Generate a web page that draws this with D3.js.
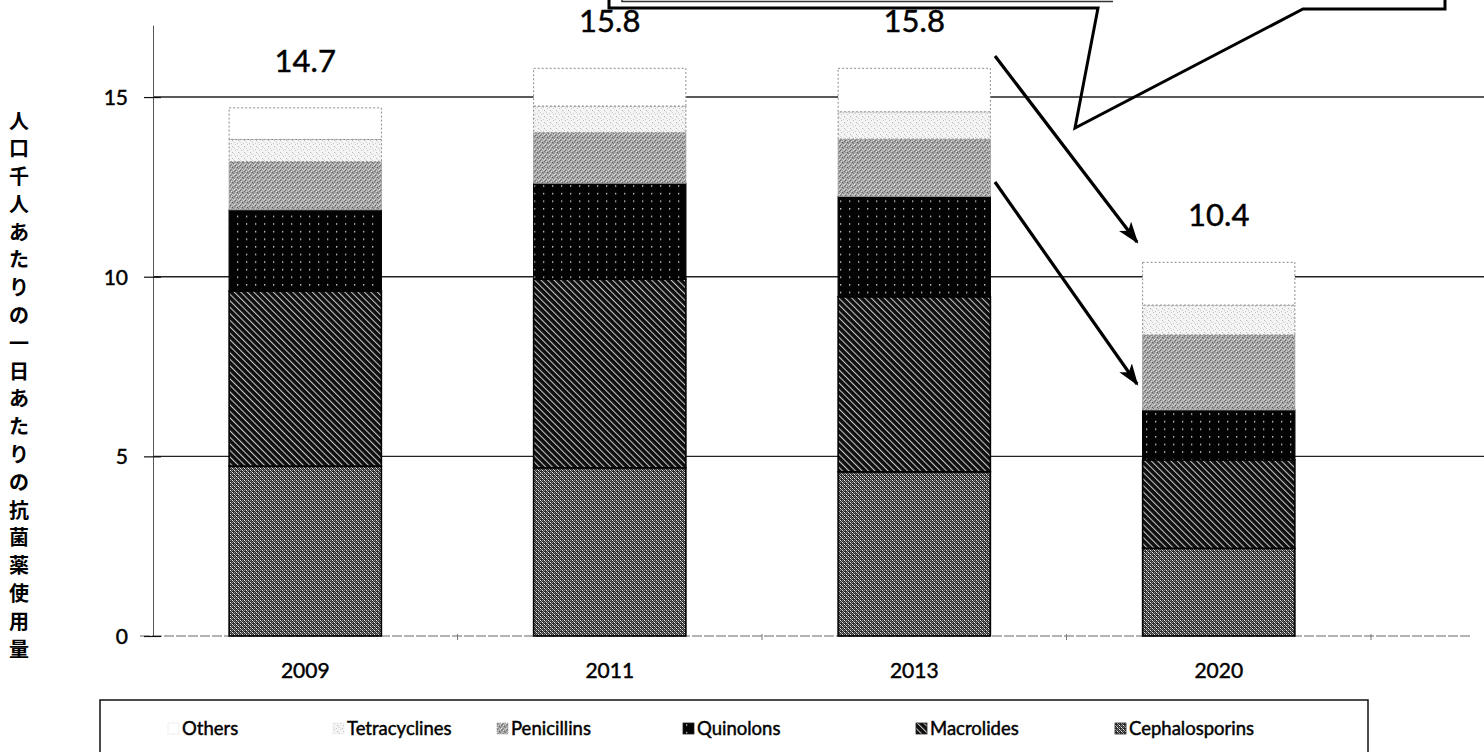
<!DOCTYPE html>
<html lang="ja">
<head>
<meta charset="utf-8">
<title>抗菌薬使用量</title>
<script src="https://cdn.jsdelivr.net/npm/d3@7"></script>
<style>
  html, body { margin: 0; padding: 0; background: #fff; }
  svg { display: block; }
  text { font-family: Lato, "Open Sans", "Noto Sans", sans-serif; fill: #000; }
  .heavy { stroke: #000; stroke-width: 0.45px; paint-order: stroke; }
  .jp { font-family: "Noto Sans CJK JP", "Noto Sans", sans-serif; }
</style>
</head>
<body>
<svg id="chart" width="1484" height="752"></svg>
<script>
// Survey years
const categories = ["2009", "2011", "2013", "2020"];

// Daily antibiotic use per 1,000 inhabitants, by drug class
const cephalosporins = [4.73, 4.68, 4.57, 2.44];
const macrolides     = [4.87, 5.25, 4.87, 2.46];
const quinolons      = [2.26, 2.67, 2.79, 1.39];
const penicillins    = [1.34, 1.41, 1.60, 2.09];
const tetracyclines  = [0.62, 0.74, 0.76, 0.83];
const others         = [0.88, 1.05, 1.21, 1.19];

// Stack order, bottom to top
const seriesNames = ["Cephalosporins", "Macrolides", "Quinolons", "Penicillins", "Tetracyclines", "Others"];
const seriesValues = [cephalosporins, macrolides, quinolons, penicillins, tetracyclines, others];

// Legend order, left to right
const legendNames = ["Others", "Tetracyclines", "Penicillins", "Quinolons", "Macrolides", "Cephalosporins"];

const yTicks = [0, 5, 10, 15];
const yTitle = "人口千人あたりの一日あたりの抗菌薬使用量";

const rows = categories.map((c, i) => {
  const r = { year: c };
  seriesNames.forEach((s, k) => { r[s] = seriesValues[k][i]; });
  return r;
});
const stacked = d3.stack().keys(seriesNames)(rows);
const totals = rows.map(r => d3.sum(seriesNames, s => r[s]));

const svg = d3.select("#chart");
const defs = svg.append("defs");

// ---- fill textures ----
function pixelPattern(id, w, h, bg, pixels) {
  const p = defs.append("pattern").attr("id", id)
    .attr("patternUnits", "userSpaceOnUse").attr("width", w).attr("height", h);
  p.append("rect").attr("width", w).attr("height", h).attr("fill", bg);
  pixels.forEach(([x, y, c]) => p.append("rect").attr("x", x).attr("y", y)
    .attr("width", 1).attr("height", 1).attr("fill", c));
  return p;
}

// Cephalosporins: fine checker
pixelPattern("pat-ceph", 4, 4, "#2a2a2a", [
  [0, 0, "#f0f0f0"], [2, 2, "#f0f0f0"], [2, 0, "#8a8a8a"], [0, 2, "#8a8a8a"],
  [1, 1, "#a8a8a8"], [3, 3, "#a0a0a0"], [3, 1, "#555"]
]);

// Macrolides: dense back-slash hatching
{
  const p = defs.append("pattern").attr("id", "pat-macro")
    .attr("patternUnits", "userSpaceOnUse").attr("width", 4.6).attr("height", 4.6)
    .attr("patternTransform", "rotate(-45)");
  p.append("rect").attr("width", 4.6).attr("height", 4.6).attr("fill", "#0e0e0e");
  p.append("rect").attr("x", 0).attr("y", 0).attr("width", 1.05).attr("height", 4.6).attr("fill", "#c8c8c8");
}

// Quinolons: black with sparse white dots
{
  const p = defs.append("pattern").attr("id", "pat-quin")
    .attr("patternUnits", "userSpaceOnUse").attr("width", 9).attr("height", 7.6);
  p.append("rect").attr("width", 9).attr("height", 7.6).attr("fill", "#030303");
  p.append("rect").attr("x", 3).attr("y", 3).attr("width", 1.3).attr("height", 1.3).attr("fill", "#e6e6e6");
}

// Penicillins: medium grey speckle
pixelPattern("pat-pen", 5, 5, "#a4a4a4", [
  [0, 0, "#6a6a6a"], [3, 0, "#d4d4d4"], [1, 1, "#dcdcdc"], [4, 1, "#777"],
  [2, 2, "#5e5e5e"], [0, 3, "#cfcfcf"], [3, 3, "#808080"], [1, 4, "#8a8a8a"],
  [4, 4, "#e0e0e0"], [2, 4, "#c8c8c8"]
]);

// Tetracyclines: light speckle
pixelPattern("pat-tet", 6, 6, "#f4f4f4", [
  [1, 0, "#c4c4c4"], [4, 2, "#b8b8b8"], [0, 4, "#d0d0d0"], [3, 5, "#c8c8c8"], [5, 3, "#dadada"]
]);

const fills = {
  Cephalosporins: "url(#pat-ceph)",
  Macrolides: "url(#pat-macro)",
  Quinolons: "url(#pat-quin)",
  Penicillins: "url(#pat-pen)",
  Tetracyclines: "url(#pat-tet)",
  Others: "#ffffff"
};
const strokes = {
  Cephalosporins: { c: "#000", w: 1.6, d: null },
  Macrolides: { c: "#000", w: 1.6, d: null },
  Quinolons: { c: "#000", w: 1.2, d: null },
  Penicillins: { c: "#9a9a9a", w: 0.8, d: null },
  Tetracyclines: { c: "#8a8a8a", w: 1, d: "2,2" },
  Others: { c: "#8a8a8a", w: 1, d: "2,2" }
};

// ---- scales ----
const x = d3.scaleBand().domain(categories).range([153, 1371])
  .paddingInner(0.5).paddingOuter(0.25);
const y = d3.scaleLinear().domain([0, 17]).range([636, 25.2]);

// ---- gridlines ----
svg.append("g").selectAll("line").data(yTicks.filter(t => t > 0)).join("line")
  .attr("x1", 153).attr("x2", 1484)
  .attr("y1", d => y(d)).attr("y2", d => y(d))
  .attr("stroke", "#222").attr("stroke-width", 1.4);

// ---- x axis baseline and category boundary ticks ----
svg.append("line").attr("x1", 140).attr("x2", 1470)
  .attr("y1", y(0)).attr("y2", y(0))
  .attr("stroke", "#666").attr("stroke-width", 1).attr("stroke-dasharray", "10,2");
const bounds = categories.slice(0, -1).map(c => x(c) + x.bandwidth() + (x.step() - x.bandwidth()) / 2);
bounds.push(x.range()[1]);
svg.append("g").selectAll("line").data(bounds).join("line")
  .attr("x1", d => d).attr("x2", d => d)
  .attr("y1", y(0) - 2).attr("y2", y(0) + 4)
  .attr("stroke", "#777").attr("stroke-width", 1);

// ---- bars ----
const layer = svg.append("g").selectAll("g").data(stacked).join("g");
layer.selectAll("rect").data(s => s.map(d => ({ key: s.key, d }))).join("rect")
  .attr("x", o => x(o.d.data.year))
  .attr("width", x.bandwidth())
  .attr("y", o => y(o.d[1]))
  .attr("height", o => y(o.d[0]) - y(o.d[1]))
  .attr("fill", o => fills[o.key])
  .attr("stroke", o => strokes[o.key].c)
  .attr("stroke-width", o => strokes[o.key].w)
  .attr("stroke-dasharray", o => strokes[o.key].d);

// ---- total labels ----
svg.append("g").selectAll("text").data(categories).join("text")
  .attr("class", "heavy")
  .attr("x", d => x(d) + x.bandwidth() / 2)
  .attr("y", (d, i) => y(totals[i]) - 36)
  .attr("text-anchor", "middle")
  .attr("font-size", 31)
  .text((d, i) => d3.format(".1f")(totals[i]));

// ---- y axis ----
const yAxis = d3.axisLeft(y).tickValues(yTicks).tickSize(0).tickPadding(0);
const yg = svg.append("g").attr("transform", "translate(153,0)").call(yAxis);
yg.select(".domain").attr("stroke", "#555").attr("stroke-width", 1);
yg.selectAll(".tick line").remove();
yg.selectAll(".tick").append("line")
  .attr("x1", -9).attr("x2", 8).attr("stroke", "#111").attr("stroke-width", 1.2);
yg.selectAll(".tick text")
  .attr("class", "heavy")
  .attr("x", -25).attr("dy", "0.35em")
  .attr("font-family", "Lato, sans-serif").attr("font-size", 21).attr("fill", "#000");

// ---- x axis labels ----
const xAxis = d3.axisBottom(x).tickSize(0).tickPadding(0);
const xg = svg.append("g").attr("transform", `translate(0,${y(0)})`).call(xAxis);
xg.select(".domain").remove();
xg.selectAll(".tick text")
  .attr("class", "heavy")
  .attr("y", 27).attr("dy", "0.71em")
  .attr("font-family", "Lato, sans-serif").attr("font-size", 21).attr("fill", "#000");

// ---- y axis title, stacked vertically one character per line ----
const chars = Array.from(yTitle);
const ty = d3.scaleLinear().domain([0, chars.length - 1]).range([120, 648]);
svg.append("g").selectAll("text").data(chars).join("text")
  .attr("class", "jp")
  .attr("x", 19).attr("y", (d, i) => ty(i))
  .attr("text-anchor", "middle").attr("dominant-baseline", "central")
  .attr("font-size", 20).attr("font-weight", 700)
  .text(d => d);

// ---- callout bubble at the top ----
svg.append("path")
  .attr("d", "M609,-6 L609,8 L1098,8 L1075,128 L1303,9 L1445,9 L1445,-6")
  .attr("fill", "none").attr("stroke", "#000").attr("stroke-width", 3)
  .attr("stroke-linejoin", "miter");
svg.append("path")
  .attr("d", "M622,-6 L622,1.5 L1113,1.5")
  .attr("fill", "none").attr("stroke", "#333").attr("stroke-width", 1.5);

// ---- arrows ----
const marker = defs.append("marker").attr("id", "arrow")
  .attr("viewBox", "0 0 20 14").attr("refX", 18).attr("refY", 7)
  .attr("markerUnits", "userSpaceOnUse")
  .attr("markerWidth", 22).attr("markerHeight", 16).attr("orient", "auto");
marker.append("path").attr("d", "M0,0 L20,7 L0,14 L5,7 Z").attr("fill", "#000");

const arrows = [
  [995, 56, 1137, 242],
  [995, 182, 1137, 384]
];
svg.append("g").selectAll("line").data(arrows).join("line")
  .attr("x1", d => d[0]).attr("y1", d => d[1])
  .attr("x2", d => d[2]).attr("y2", d => d[3])
  .attr("stroke", "#000").attr("stroke-width", 3.2)
  .attr("marker-end", "url(#arrow)");

// ---- legend ----
svg.append("rect").attr("x", 100).attr("y", 700).attr("width", 1268).attr("height", 70)
  .attr("fill", "none").attr("stroke", "#111").attr("stroke-width", 1.5);

const legendX = d3.scaleOrdinal().domain(legendNames)
  .range([168, 333, 497, 683, 916, 1115]);
const lg = svg.append("g").selectAll("g").data(legendNames).join("g")
  .attr("transform", d => `translate(${legendX(d)},729)`);
lg.append("rect")
  .attr("x", 0).attr("y", -6).attr("width", 11).attr("height", 11)
  .attr("fill", d => fills[d])
  .attr("stroke", d => (d === "Others" || d === "Tetracyclines") ? "#ececec" : (d === "Penicillins" ? "#9a9a9a" : "#222"))
  .attr("stroke-width", 0.8)
  .attr("stroke-dasharray", d => d === "Penicillins" ? "1.5,1" : null);
lg.append("text")
  .attr("class", "heavy")
  .attr("x", 14).attr("y", 0).attr("dy", "0.35em")
  .attr("font-size", 18.5)
  .text(d => d);
</script>
</body>
</html>
